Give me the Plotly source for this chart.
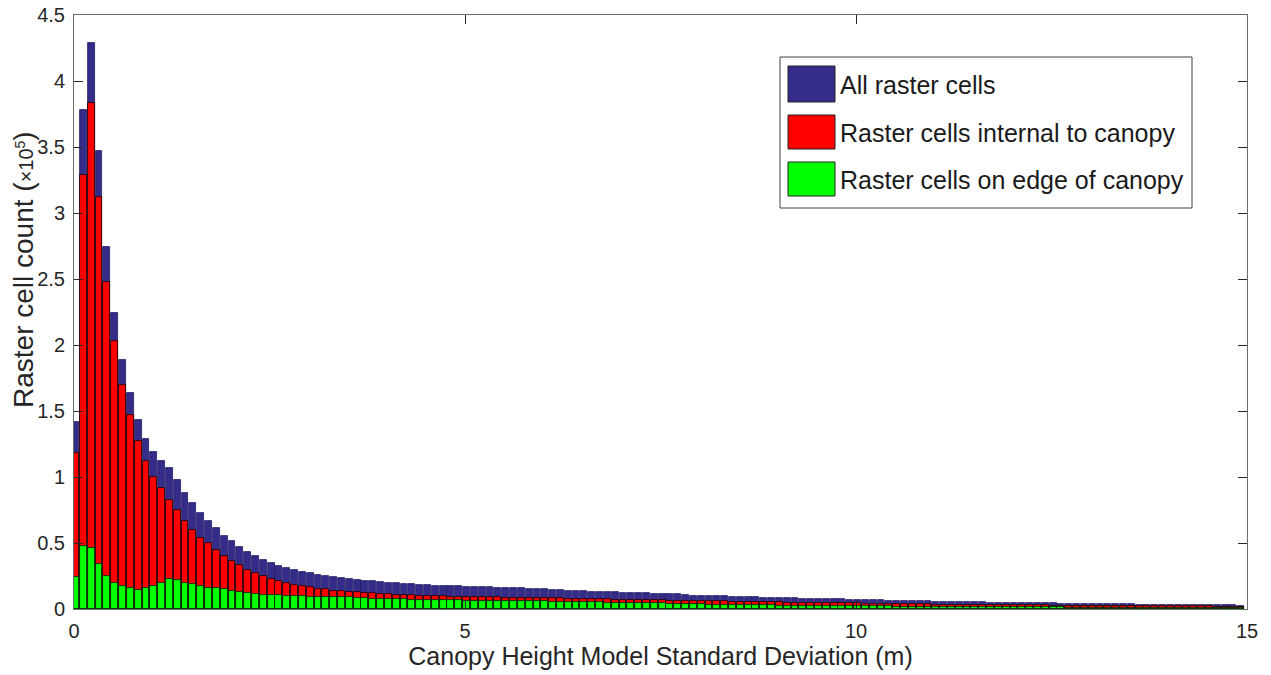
import plotly.graph_objects as go

# Values in units of 10^5 raster cells, one per 0.1 m bin
all_cells = [
    1.42, 3.78, 4.29, 3.47, 2.74, 2.24, 1.89, 1.64, 1.43, 1.285,
    1.19, 1.12, 1.066, 0.977, 0.88, 0.80, 0.725, 0.667, 0.61, 0.556,
    0.515, 0.467, 0.43, 0.40, 0.37, 0.346, 0.328, 0.31, 0.293, 0.28,
    0.27, 0.258, 0.25, 0.245, 0.232, 0.228, 0.22, 0.215, 0.21, 0.202,
    0.20, 0.195, 0.193, 0.187, 0.185, 0.179, 0.178, 0.177, 0.175, 0.174,
    0.169, 0.168, 0.166, 0.165, 0.162, 0.161, 0.157, 0.156, 0.152, 0.153,
    0.149, 0.145, 0.144, 0.138, 0.136, 0.135, 0.131, 0.130, 0.129, 0.126,
    0.125, 0.120, 0.119, 0.118, 0.117, 0.114, 0.111, 0.110, 0.106, 0.102,
    0.101, 0.099, 0.097, 0.096, 0.094, 0.092, 0.091, 0.089, 0.087, 0.085,
    0.084, 0.083, 0.081, 0.079, 0.078, 0.077, 0.076, 0.074, 0.073, 0.071,
    0.070, 0.069, 0.067, 0.066, 0.064, 0.062, 0.061, 0.060, 0.059, 0.058,
    0.056, 0.055, 0.054, 0.053, 0.052, 0.051, 0.050, 0.049, 0.048, 0.047,
    0.046, 0.045, 0.045, 0.044, 0.043, 0.042, 0.041, 0.041, 0.040, 0.039,
    0.038, 0.038, 0.037, 0.036, 0.036, 0.035, 0.034, 0.033, 0.033, 0.032,
    0.032, 0.031, 0.031, 0.030, 0.029, 0.029, 0.028, 0.028, 0.027, 0.026,
]

internal_cells = [
    1.18, 3.29, 3.83, 3.12, 2.48, 2.03, 1.70, 1.47, 1.275, 1.124,
    1.00, 0.914, 0.826, 0.75, 0.67, 0.60, 0.54, 0.497, 0.447, 0.40,
    0.364, 0.33, 0.298, 0.273, 0.25, 0.23, 0.212, 0.197, 0.182, 0.174,
    0.167, 0.154, 0.149, 0.139, 0.136, 0.131, 0.126, 0.119, 0.119, 0.114,
    0.114, 0.106, 0.106, 0.104, 0.101, 0.098, 0.098, 0.096, 0.093, 0.093,
    0.091, 0.091, 0.088, 0.088, 0.088, 0.086, 0.086, 0.086, 0.085, 0.084,
    0.083, 0.081, 0.080, 0.078, 0.077, 0.077, 0.075, 0.074, 0.073, 0.072,
    0.071, 0.069, 0.069, 0.067, 0.066, 0.065, 0.064, 0.064, 0.062, 0.061,
    0.060, 0.058, 0.057, 0.057, 0.055, 0.054, 0.054, 0.052, 0.051, 0.050,
    0.050, 0.049, 0.048, 0.047, 0.046, 0.046, 0.045, 0.044, 0.043, 0.042,
    0.042, 0.041, 0.040, 0.039, 0.038, 0.037, 0.037, 0.036, 0.036, 0.035,
    0.034, 0.034, 0.033, 0.033, 0.032, 0.031, 0.031, 0.030, 0.030, 0.029,
    0.029, 0.028, 0.028, 0.027, 0.027, 0.026, 0.026, 0.026, 0.025, 0.025,
    0.024, 0.024, 0.023, 0.023, 0.023, 0.022, 0.022, 0.021, 0.021, 0.021,
    0.020, 0.020, 0.020, 0.019, 0.019, 0.019, 0.018, 0.018, 0.018, 0.017,
]

edge_cells = [
    0.24, 0.48, 0.46, 0.34, 0.25, 0.20, 0.175, 0.157, 0.146, 0.157,
    0.177, 0.20, 0.23, 0.222, 0.20, 0.187, 0.177, 0.16, 0.157, 0.149,
    0.139, 0.129, 0.124, 0.116, 0.109, 0.106, 0.104, 0.10, 0.096, 0.096,
    0.093, 0.091, 0.093, 0.091, 0.088, 0.088, 0.083, 0.081, 0.078, 0.076,
    0.073, 0.073, 0.073, 0.071, 0.071, 0.068, 0.068, 0.067, 0.066, 0.065,
    0.064, 0.064, 0.063, 0.062, 0.062, 0.061, 0.061, 0.060, 0.059, 0.058,
    0.057, 0.056, 0.055, 0.054, 0.053, 0.052, 0.051, 0.050, 0.049, 0.048,
    0.047, 0.046, 0.045, 0.044, 0.043, 0.042, 0.041, 0.040, 0.039, 0.038,
    0.036, 0.034, 0.033, 0.032, 0.031, 0.030, 0.029, 0.029, 0.028, 0.027,
    0.026, 0.026, 0.025, 0.024, 0.024, 0.023, 0.023, 0.022, 0.022, 0.021,
    0.021, 0.020, 0.020, 0.019, 0.019, 0.018, 0.018, 0.018, 0.017, 0.017,
    0.016, 0.016, 0.016, 0.015, 0.015, 0.015, 0.014, 0.014, 0.014, 0.013,
    0.013, 0.013, 0.013, 0.012, 0.012, 0.012, 0.012, 0.011, 0.011, 0.011,
    0.011, 0.010, 0.010, 0.010, 0.010, 0.010, 0.009, 0.009, 0.009, 0.009,
    0.009, 0.008, 0.008, 0.008, 0.008, 0.008, 0.008, 0.007, 0.007, 0.007,
]

bin_width = 0.1
bin_offset = 0.02
bin_centers = [round(bin_offset + bin_width * i, 3) for i in range(len(all_cells))]

series_names = ["All raster cells", "Raster cells internal to canopy", "Raster cells on edge of canopy"]
series_colors = ["#332c88", "#ff0000", "#00ff00"]
x_ticks = [0, 5, 10, 15]
y_ticks = [0, 0.5, 1, 1.5, 2, 2.5, 3, 3.5, 4, 4.5]
x_title = "Canopy Height Model Standard Deviation (m)"
y_title = "Raster cell count (<span style='font-size:20px'>×10<sup>5</sup></span>)"

FONT = "Liberation Sans, Arial, sans-serif"
AX = "#262626"

fig = go.Figure()
for vals, name, col, lc in zip([all_cells, internal_cells, edge_cells], series_names,
                               series_colors, ["#221c66", "#1a0000", "#001a00"]):
    fig.add_trace(go.Bar(x=bin_centers, y=vals, name=name, width=0.088,
                         marker=dict(color=col, line=dict(color=lc, width=0.8)),
                         showlegend=False))

# legend drawn as box + swatches + text
L, T, W, H = 74, 15, 1173, 594
def px(x): return (x - L) / W
def py(y): return (T + H - y) / H

shapes = [dict(type="rect", xref="paper", yref="paper", x0=px(780), x1=px(1192),
               y0=py(208), y1=py(57), line=dict(color="#404040", width=1), fillcolor="white", layer="above")]
sw = [(66, 102), (115, 149), (162, 196)]
for (a, b), col in zip(sw, series_colors):
    shapes.append(dict(type="rect", xref="paper", yref="paper", x0=px(788), x1=px(835),
                       y0=py(b), y1=py(a), fillcolor=col, line=dict(color="#222222", width=1), layer="above"))
annotations = []
for (a, b), name in zip(sw, series_names):
    annotations.append(dict(xref="paper", yref="paper", x=px(838), y=py((a + b) / 2 + 1), text=name,
                            showarrow=False, xanchor="left", yanchor="middle",
                            font=dict(family=FONT, size=25, color="#1a1a1a")))
# y-axis title
annotations.append(dict(xref="paper", yref="paper", x=px(23), y=py(270), text=y_title,
                        textangle=-90, showarrow=False, xanchor="center", yanchor="middle",
                        font=dict(family=FONT, size=28, color=AX)))

fig.update_layout(
    width=1271, height=675,
    margin=dict(l=L, r=1271 - L - W, t=T, b=675 - T - H),
    paper_bgcolor="white", plot_bgcolor="white",
    barmode="overlay", bargap=0,
    font=dict(family=FONT, size=20, color=AX),
    shapes=shapes, annotations=annotations,
    xaxis=dict(range=[0, 15], tickvals=x_ticks, ticktext=[str(t) for t in x_ticks],
               ticks="inside", ticklen=9, tickcolor=AX, showline=True, linecolor="#6e6e6e",
               linewidth=1, mirror="ticks", showgrid=False, zeroline=False, automargin=False,
               tickfont=dict(size=20, color=AX), ticklabelstandoff=4,
               title=dict(text=x_title, font=dict(size=25, color=AX), standoff=2)),
    yaxis=dict(range=[0, 4.5], tickvals=y_ticks, ticktext=[f"{t:g}" for t in y_ticks],
               ticks="inside", ticklen=9, tickcolor=AX, showline=True, linecolor="#6e6e6e",
               linewidth=1, mirror="ticks", showgrid=False, zeroline=False, automargin=False,
               tickfont=dict(size=20, color=AX), ticklabelstandoff=4),
)

fig.write_html("out.html")
